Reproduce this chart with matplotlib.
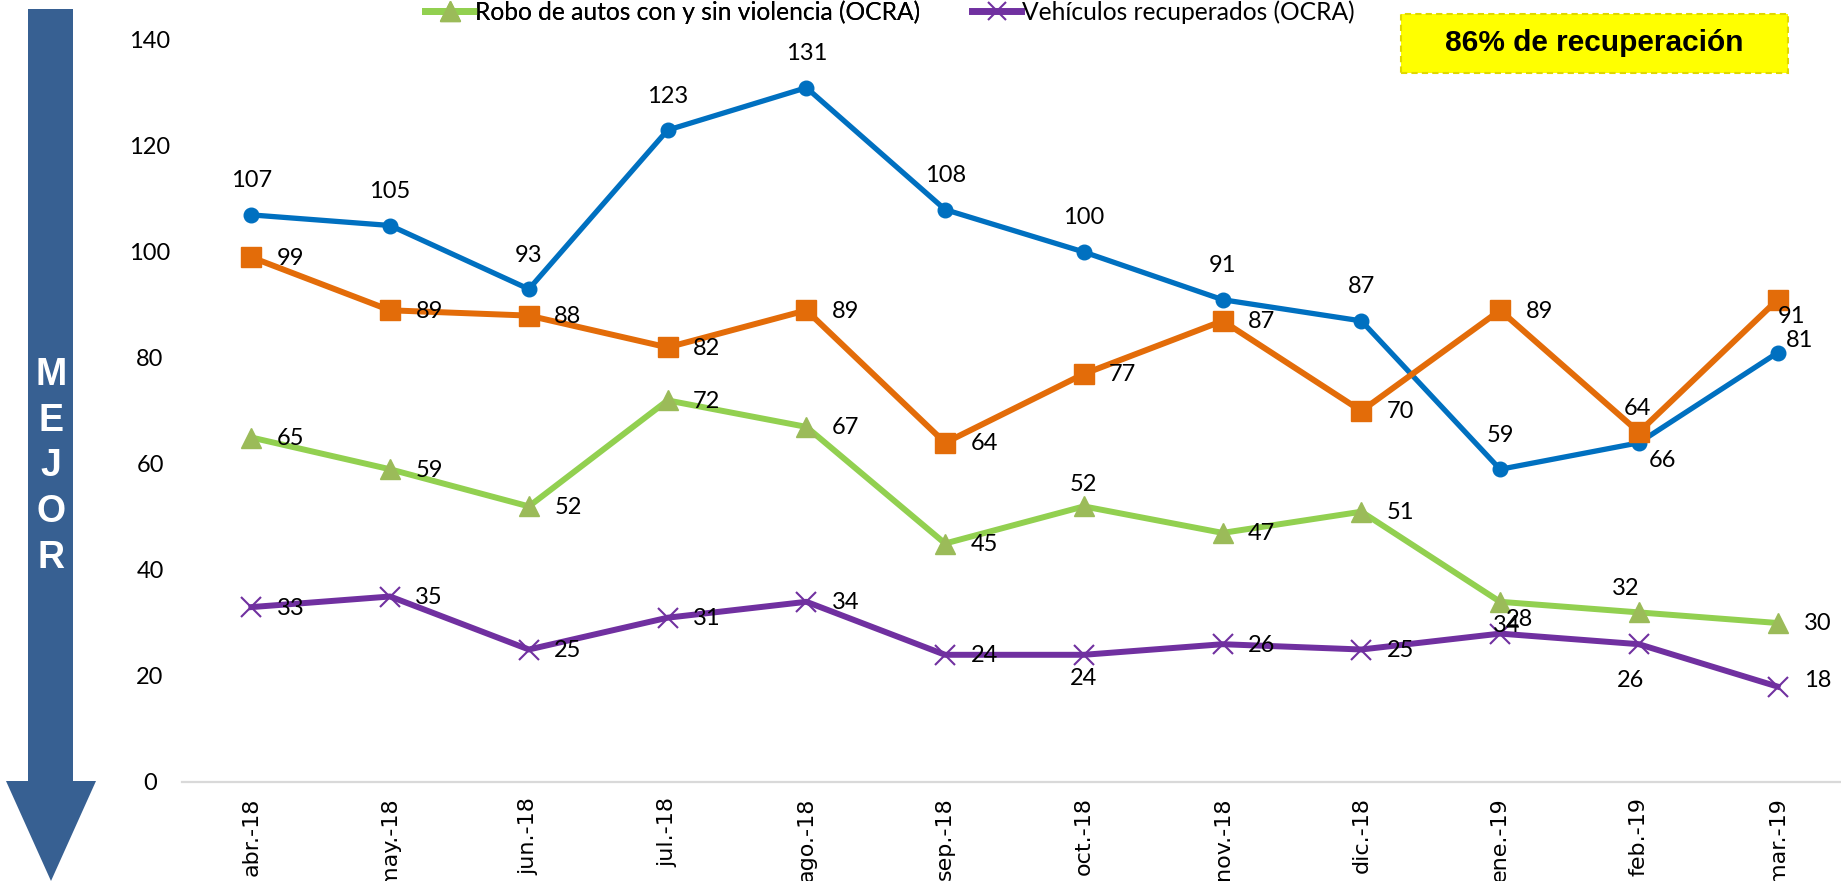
import matplotlib
matplotlib.use("Agg")
import matplotlib.pyplot as plt
from matplotlib.lines import Line2D
from matplotlib.patches import Polygon, Rectangle

W, H = 1841, 881

MONTHS = ["abr.-18", "may.-18", "jun.-18", "jul.-18", "ago.-18", "sep.-18",
          "oct.-18", "nov.-18", "dic.-18", "ene.-19", "feb.-19", "mar.-19"]

# plotted values
BLUE_VALUES = [107, 105, 93, 123, 131, 108, 100, 91, 87, 59, 64, 81]
ORANGE_VALUES = [99, 89, 88, 82, 89, 64, 77, 87, 70, 89, 66, 91]
ROBO_VALUES = [65, 59, 52, 72, 67, 45, 52, 47, 51, 34, 32, 30]
RECUP_VALUES = [33, 35, 25, 31, 34, 24, 24, 26, 25, 28, 26, 18]

# label texts as printed on the chart (a few are swapped in the original)
BLUE_LABELS = [107, 105, 93, 123, 131, 108, 100, 91, 87, 59, 66, 81]
ORANGE_LABELS = [99, 89, 88, 82, 89, 64, 77, 87, 70, 89, 64, 91]
ROBO_LABELS = [65, 59, 52, 72, 67, 45, 52, 47, 51, 28, 32, 30]
RECUP_LABELS = [33, 35, 25, 31, 34, 24, 24, 26, 25, 34, 26, 18]

ROBO_NAME = "Robo de autos con y sin violencia (OCRA)"
RECUP_NAME = "Vehículos recuperados (OCRA)"
BOX_TEXT = "86% de recuperación"
ARROW_TEXT = "MEJOR"

Y_TICKS = [0, 20, 40, 60, 80, 100, 120, 140]

BLUE = "#0070C0"
ORANGE = "#E36C09"
GREEN = "#92D050"
GREEN_MK = "#9BBB59"
PURPLE = "#7030A0"
ARROW_BLUE = "#376092"

NARROW = ["Lato", "DejaVu Sans"]
LABEL_FS = 17

# label offsets in pixels (dx, dy), y up
ABOVE = (0, 34)
RIGHT = (39, -1)
blue_off = [ABOVE] * 12
blue_off[10] = (24, -18)
blue_off[11] = (22, 12)
orange_off = [RIGHT] * 12
orange_off[10] = (-1, 24)
orange_off[11] = (14, -17)
robo_off = [RIGHT] * 12
robo_off[6] = (0, 22)
robo_off[9] = (19, -18)
robo_off[10] = (-13, 24)
robo_off[11] = (40, 0)
recup_off = [RIGHT] * 12
recup_off[6] = (0, -24)
recup_off[9] = (7, 8)
recup_off[10] = (-8, -36)
recup_off[11] = (40, 6)

fig = plt.figure(figsize=(W / 100, H / 100), dpi=100)
ax = fig.add_axes([182 / W, 1 - 782 / H, (1847 - 182) / W, (782 - 40) / H])

x = list(range(len(MONTHS)))
ax.plot(x, BLUE_VALUES, color=BLUE, lw=3.8, marker="o", ms=10.5, zorder=3)
ax.plot(x, ORANGE_VALUES, color=ORANGE, lw=4.3, marker="s", ms=14, zorder=3)
ax.plot(x, ROBO_VALUES, color=GREEN, lw=4.3, marker="^", ms=15,
        mfc=GREEN_MK, mec=GREEN_MK, zorder=3)
ax.plot(x, RECUP_VALUES, color=PURPLE, lw=4.3, marker="x", ms=14, mew=1.5, zorder=3)

for vals, labels, offs in [(BLUE_VALUES, BLUE_LABELS, blue_off),
                           (ORANGE_VALUES, ORANGE_LABELS, orange_off),
                           (ROBO_VALUES, ROBO_LABELS, robo_off),
                           (RECUP_VALUES, RECUP_LABELS, recup_off)]:
    for i, (v, lab) in enumerate(zip(vals, labels)):
        ax.annotate(str(lab), (i, v), xytext=offs[i], textcoords="offset pixels",
                    ha="center", va="center", fontsize=LABEL_FS, family=NARROW,
                    color="black", zorder=4)

ax.set_xlim(-0.5, len(MONTHS) - 0.5)
ax.set_ylim(0, 140)
ax.set_yticks(Y_TICKS)
ax.set_yticklabels([str(t) for t in Y_TICKS], family=NARROW, fontsize=LABEL_FS, ha="center")
ax.tick_params(axis="y", length=0, pad=23)
ax.set_xticks(x)
ax.set_xticklabels(MONTHS, rotation=90, fontsize=16, family="DejaVu Sans")
ax.tick_params(axis="x", length=0, pad=11)
for side in ["top", "right", "left"]:
    ax.spines[side].set_visible(False)
ax.spines["bottom"].set_color("#D9D9D9")
ax.spines["bottom"].set_linewidth(1.6)

# legend entries (top row only is visible)
h_robo = Line2D([], [], color=GREEN, lw=5, marker="^", ms=14, mfc=GREEN_MK, mec=GREEN_MK)
h_recup = Line2D([], [], color=PURPLE, lw=5, marker="x", ms=13, mew=1.5)
leg_kw = dict(loc="center left", frameon=False, borderpad=0, borderaxespad=0,
              handlelength=2.0, handletextpad=0.05, prop={"family": NARROW, "size": 17.7})
leg1 = fig.legend([h_robo], [ROBO_NAME], bbox_to_anchor=(425 / W, 1 - 12 / H), **leg_kw)
fig.legend([h_recup], [RECUP_NAME], bbox_to_anchor=(972 / W, 1 - 12 / H), **leg_kw)
fig.add_artist(leg1)

# yellow note box
fig.patches.append(Rectangle((1401 / W, 1 - 73 / H), (1788 - 1401) / W, (73 - 14) / H,
                             transform=fig.transFigure, facecolor="#FFFF00",
                             edgecolor="#E0D800", lw=1.5, ls=(0, (3, 2))))
fig.text(1594 / W, 1 - 43 / H, BOX_TEXT, ha="center", va="center", fontsize=21.5,
         fontweight="bold", family="Liberation Sans", color="black")

# "MEJOR" arrow
arrow_px = [(28, 9), (73, 9), (73, 781), (96, 781), (51, 881), (6, 781), (28, 781)]
fig.patches.append(Polygon([(px / W, 1 - py / H) for px, py in arrow_px], closed=True,
                           transform=fig.transFigure, facecolor=ARROW_BLUE, edgecolor="none"))
for k, ch in enumerate(ARROW_TEXT):
    fig.text(51 / W, 1 - (375 + 45.7 * k) / H, ch, ha="center", va="center", fontsize=27,
             fontweight="bold", family="Liberation Sans", color="white")

fig.savefig("out.png", dpi=100)
